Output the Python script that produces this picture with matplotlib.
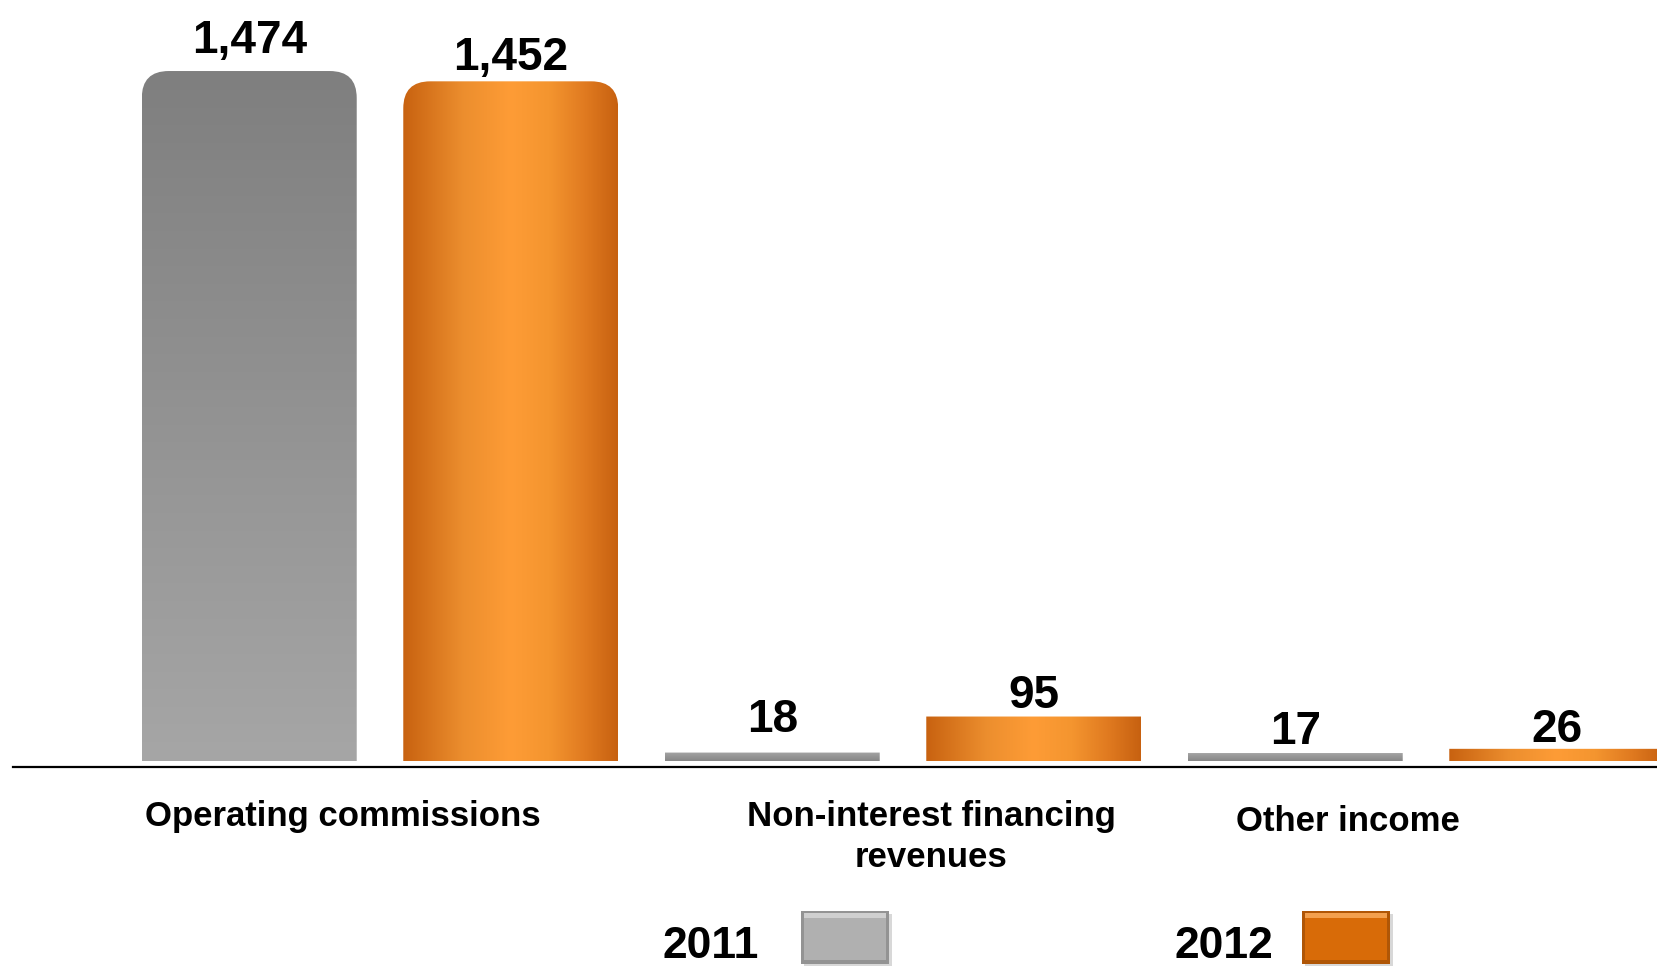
import numpy as np
import matplotlib
matplotlib.use("Agg")
import matplotlib.pyplot as plt
from matplotlib.colors import LinearSegmentedColormap
from matplotlib.path import Path
from matplotlib.patches import PathPatch, Rectangle

plt.rcParams["font.family"] = ["Liberation Sans", "DejaVu Sans"]
plt.rcParams["font.weight"] = "bold"

# data
categories = ["Operating commissions", "Non-interest financing\nrevenues", "Other income"]
years = ["2011", "2012"]
values_2011 = [1474, 18, 17]
values_2012 = [1452, 95, 26]

W, H = 1657, 966
PX_X = 523.0    # px per category
X0 = 380.0      # px of first category centre
PX_Y = 0.4681   # px per unit
BASE = 761.0    # px of bar bottom (from top)

fig = plt.figure(figsize=(W / 100, H / 100), dpi=100)
ax = fig.add_axes([0, 0, 1, 1])
ax.set_axis_off()

gray_tall = LinearSegmentedColormap.from_list("gt", ["#7f7f7f", "#a6a6a6"])
gray_small = LinearSegmentedColormap.from_list("gs", ["#a4a4a4", "#868686"])
orange = LinearSegmentedColormap.from_list(
    "or", [(0, "#c86210"), (0.28, "#ec8e2e"), (0.5, "#fe9c36"),
           (0.68, "#f4952f"), (0.85, "#e07a20"), (1, "#c76110")])


def fill_bar(rect, cmap, vertical, radius_px=27):
    x0, y0 = rect.get_x(), rect.get_y()
    w, h = rect.get_width(), rect.get_height()
    rx, ry = radius_px / PX_X, radius_px / PX_Y
    if h < 3 * ry:
        rx = ry = 0.0
    verts = [(x0, y0), (x0 + w, y0), (x0 + w, y0 + h - ry), (x0 + w, y0 + h),
             (x0 + w - rx, y0 + h), (x0 + rx, y0 + h), (x0, y0 + h),
             (x0, y0 + h - ry), (x0, y0)]
    codes = [Path.MOVETO, Path.LINETO, Path.LINETO, Path.CURVE3, Path.CURVE3,
             Path.LINETO, Path.CURVE3, Path.CURVE3, Path.CLOSEPOLY]
    grad = np.linspace(0, 1, 256)
    grad = grad.reshape(-1, 1) if vertical else grad.reshape(1, -1)
    im = ax.imshow(grad, cmap=cmap, extent=[x0, x0 + w, y0, y0 + h],
                   origin="upper", aspect="auto", interpolation="bicubic")
    patch = PathPatch(Path(verts, codes), facecolor="none", edgecolor="none")
    ax.add_patch(patch)
    im.set_clip_path(patch)


x = np.arange(len(categories))
bw = 0.411
bars_2011 = ax.bar(x - 0.25, values_2011, bw, color="none")
bars_2012 = ax.bar(x + 0.25, values_2012, bw, color="none")

for r, v in zip(bars_2011, values_2011):
    fill_bar(r, gray_tall if v > 200 else gray_small, True)
for r in bars_2012:
    fill_bar(r, orange, False)

# value labels (baseline gap above bar top, px)
gap_2011 = [18, 21, 9]
gap_2012 = [11, 9, 7]
for bars, vals, gaps in [(bars_2011, values_2011, gap_2011), (bars_2012, values_2012, gap_2012)]:
    for r, v, g in zip(bars, vals, gaps):
        ax.annotate(f"{v:,}", (r.get_x() + r.get_width() / 2, v),
                    xytext=(0, g * 0.72), textcoords="offset points",
                    ha="center", va="baseline", fontsize=33, fontweight="bold")

ax.axhline(-(767 - BASE) / PX_Y, xmin=13 / W, xmax=1, color="black", lw=1.6)

ax.set_xlim(-X0 / PX_X, (W - X0) / PX_X)
ax.set_ylim(-(H - BASE) / PX_Y, BASE / PX_Y)

# category labels (baseline of the last line, px)
cat_pos = [(343, 826), (931, 867), (1348, 831)]
for lab, (px, py) in zip(categories, cat_pos):
    fig.text(px / W, 1 - py / H, lab, ha="center", va="baseline",
             fontsize=25, fontweight="bold", linespacing=1.32, multialignment="center")

# legend
leg = [("2011", 663, 801, "#b0b0b0", "#cfcfcf", "#939393"),
       ("2012", 1175, 1302, "#d86b08", "#f3a04e", "#b05606")]
for lab, tx, sx, main, light, dark in leg:
    fig.text(tx / W, 1 - 958 / H, lab, ha="left", va="baseline",
             fontsize=32, fontweight="bold")
    sw, sh, sy = 88, 53, 911
    fig.add_artist(Rectangle(((sx + 3) / W, 1 - (sy + sh + 3) / H), sw / W, sh / H,
                             transform=fig.transFigure, facecolor="#d8d8d8", edgecolor="none"))
    fig.add_artist(Rectangle((sx / W, 1 - (sy + sh) / H), sw / W, sh / H,
                             transform=fig.transFigure, facecolor=dark, edgecolor="none"))
    fig.add_artist(Rectangle(((sx + 3) / W, 1 - (sy + sh - 4) / H), (sw - 6) / W, (sh - 7) / H,
                             transform=fig.transFigure, facecolor=main, edgecolor="none"))
    fig.add_artist(Rectangle(((sx + 3) / W, 1 - (sy + 7) / H), (sw - 6) / W, 5 / H,
                             transform=fig.transFigure, facecolor=light, edgecolor="none"))

fig.savefig("out.png", dpi=100)
